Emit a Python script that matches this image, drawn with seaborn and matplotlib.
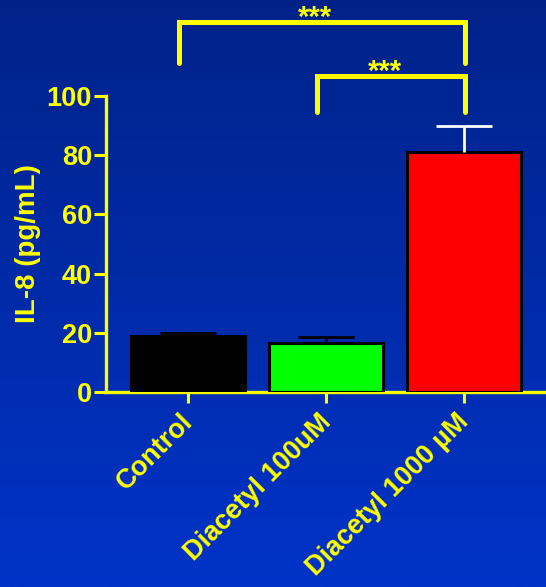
import numpy as np
import pandas as pd
import matplotlib
matplotlib.use("Agg")
import matplotlib.pyplot as plt
import matplotlib.transforms as mtransforms
import seaborn as sns

# Data
groups = ["Control", "Diacetyl 100uM", "Diacetyl 1000 µM"]
il8_mean = [18.9, 16.6, 81.1]
il8_sem = [1.0, 1.9, 8.9]
bar_colors = ["#000000", "#00FF00", "#FF0000"]
err_colors = ["#000000", "#000000", "#FFFFFF"]
yticks = [0, 20, 40, 60, 80, 100]
sig_label = "***"

YELLOW = "#FFFF00"

sns.set_theme(style="white")
plt.rcParams["font.family"] = ["Liberation Sans", "DejaVu Sans"]
plt.rcParams["font.weight"] = "bold"

fig = plt.figure(figsize=(5.46, 5.87), dpi=100)

# Blue gradient backdrop
bg = fig.add_axes([0, 0, 1, 1], zorder=-10)
top = np.array([0x00, 0x22, 0x88]) / 255
bot = np.array([0x00, 0x33, 0xC8]) / 255
t = np.linspace(0, 1, 256)[:, None]
grad = (top[None, :] * (1 - t) + bot[None, :] * t)[:, None, :]
bg.imshow(grad, aspect="auto", extent=[0, 1, 0, 1], origin="upper")
bg.set_axis_off()

ax = fig.add_axes([106 / 546, 1 - 392 / 587, 1 - 106 / 546, (392 - 96) / 587])
ax.patch.set_alpha(0)

df = pd.DataFrame({"group": groups, "il8": il8_mean})
sns.barplot(data=df, x="group", y="il8", hue="group", palette=bar_colors,
            saturation=1, width=0.826, edgecolor="black", linewidth=2.2,
            legend=False, ax=ax, zorder=3)

# Upper-only error bars (SEM)
for i, (m, e, c) in enumerate(zip(il8_mean, il8_sem, err_colors)):
    _, caps, _ = ax.errorbar(i, m, yerr=[[0], [e]], fmt="none", ecolor=c,
                             elinewidth=2.0, capsize=20.5, capthick=2.0,
                             zorder=4)
    for cap in caps:
        if np.allclose(cap.get_ydata(), m):
            cap.set_visible(False)

ax.set_xlim(-0.594, 2.594)
ax.set_ylim(0, 100)
ax.set_yticks(yticks)
ax.set_yticklabels([str(v) for v in yticks])

for side in ["top", "right"]:
    ax.spines[side].set_visible(False)
for side in ["left", "bottom"]:
    ax.spines[side].set_color(YELLOW)
    ax.spines[side].set_linewidth(2.4)

ax.tick_params(axis="y", direction="out", length=9, width=2.2, color=YELLOW,
               labelcolor=YELLOW, labelsize=19.5, pad=1, left=True)
ax.tick_params(axis="x", direction="out", length=8, width=2.2, color=YELLOW,
               labelcolor=YELLOW, labelsize=19.5, pad=2, bottom=True)
for lab in ax.get_yticklabels():
    lab.set_fontweight("bold")

# Rotated category labels, nudged down-left of their ticks
shift = mtransforms.ScaledTranslation(-8 / 100, -3 / 100, fig.dpi_scale_trans)
for lab in ax.get_xticklabels():
    lab.set_rotation(45)
    lab.set_ha("right")
    lab.set_rotation_mode("anchor")
    lab.set_fontweight("bold")
    lab.set_transform(lab.get_transform() + shift)

ax.set_xlabel("")
ax.set_ylabel("IL-8 (pg/mL)", color=YELLOW, fontsize=20, fontweight="bold",
              labelpad=4)

# Significance brackets
def bracket(x0, x1, y_top, y_tip, label, lx, ly):
    ax.plot([x0, x0, x1, x1], [y_tip, y_top, y_top, y_tip], color=YELLOW,
            lw=3.6, clip_on=False, solid_joinstyle="miter", zorder=5)
    ax.text(lx, ly, label, color=YELLOW, fontsize=21, fontweight="bold",
            ha="center", va="center", clip_on=False)

bracket(-0.065, 2.005, 125.1, 111.3, sig_label, 0.92, 126.5)
bracket(0.935, 2.005, 106.7, 94.7, sig_label, 1.43, 108.0)

fig.savefig("out.png", dpi=100)
